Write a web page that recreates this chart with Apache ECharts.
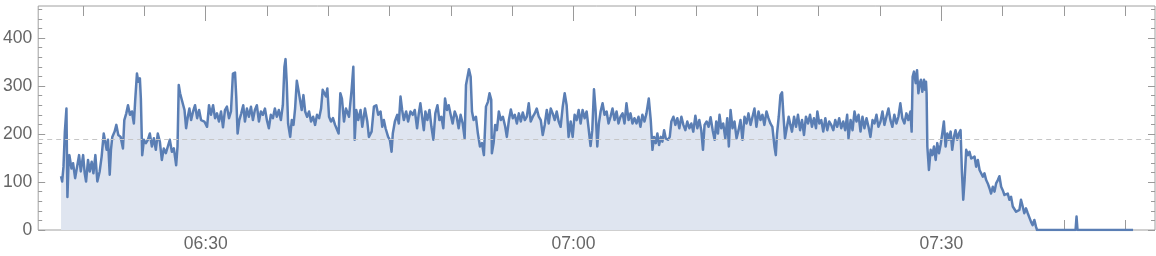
<!DOCTYPE html>
<html>
<head>
<meta charset="utf-8">
<script src="https://cdn.jsdelivr.net/npm/echarts@6/dist/echarts.min.js"></script>
<style>
html,body{margin:0;padding:0;background:#fff;}
#chart{width:1156px;height:256px;}
</style>
</head>
<body>
<div id="chart"></div>
<script>
// time in minutes after 06:00
const minutes = [
 18.20,18.29,18.40,18.51,18.56,18.64,18.72,18.80,18.88,19.05,19.18,19.35,19.51,19.67,19.81,20.00,20.13,20.24,20.40,20.54,
 20.70,20.84,21.00,21.16,21.35,21.51,21.68,21.81,21.92,22.03,22.17,22.27,22.38,22.57,22.71,22.87,23.06,23.25,23.36,23.52,
 23.66,23.82,23.98,24.14,24.25,24.39,24.50,24.63,24.71,24.82,24.96,25.12,25.28,25.44,25.61,25.77,25.93,26.09,26.26,26.42,
 26.58,26.75,26.91,27.07,27.24,27.40,27.59,27.70,27.80,27.91,28.02,28.13,28.27,28.40,28.54,28.67,28.81,28.97,29.13,29.30,
 29.46,29.62,
 29.89,30.11,30.27,30.43,30.60,30.76,30.92,31.08,31.25,31.41,31.57,31.73,31.90,32.06,32.22,32.39,32.49,32.60,32.74,32.90,
 33.06,33.20,33.36,33.52,33.69,33.85,34.01,34.17,34.34,34.50,34.66,34.83,34.99,35.15,35.31,35.48,35.64,35.80,35.96,36.13,
 36.29,36.42,36.51,36.61,36.72,36.89,37.02,37.16,37.29,37.43,37.56,37.70,37.83,37.97,38.11,38.27,38.43,38.59,38.76,38.92,
 39.08,39.25,39.41,39.54,39.68,39.81,39.92,40.06,40.22,40.38,40.55,40.71,40.84,40.98,41.11,41.28,41.44,
 41.69,41.90,42.04,42.15,42.28,42.44,42.63,42.77,42.99,43.18,43.31,43.53,43.72,43.91,44.07,44.26,44.40,44.53,44.67,44.88,
 45.02,45.16,45.26,45.43,45.62,45.75,45.89,46.02,46.16,46.35,46.51,46.70,46.89,47.05,47.24,47.38,47.51,47.65,47.79,47.92,
 48.08,48.25,48.41,48.57,48.73,48.90,49.06,49.22,49.38,49.52,49.68,49.82,49.98,50.14,50.31,50.47,50.63,50.79,50.96,51.12,
 51.23,51.36,51.47,51.61,51.72,51.85,52.04,52.20,52.37,52.53,52.69,52.86,53.02,53.15,53.29,
 53.34,53.48,53.61,53.75,53.91,54.07,54.24,54.43,54.56,54.73,54.89,55.05,55.21,55.38,55.54,55.70,55.86,56.03,56.19,56.35,
 56.51,56.68,56.84,57.00,57.17,57.33,57.49,57.65,57.82,57.98,58.14,58.30,58.47,58.63,58.79,58.95,59.12,59.28,59.44,59.60,
 59.77,59.93,60.09,60.26,60.42,60.58,60.74,60.91,61.07,61.23,61.39,61.53,61.67,61.80,61.94,62.07,62.21,62.37,62.53,62.70,
 62.86,63.02,63.18,63.35,63.51,63.67,63.83,64.00,64.16,64.32,64.49,64.65,64.81,64.97,
 65.14,65.30,65.46,65.62,65.79,65.95,66.14,66.30,66.44,66.57,66.71,66.84,66.98,67.12,67.25,67.39,67.52,67.71,67.85,67.98,
 68.15,68.31,68.47,68.63,68.80,68.96,69.12,69.28,69.45,69.61,69.77,69.94,70.10,70.26,70.42,70.56,70.69,70.86,71.02,71.18,
 71.35,71.51,71.64,71.78,71.91,72.05,72.21,72.38,72.54,72.67,72.81,72.97,73.13,73.30,73.46,73.62,73.78,73.95,74.11,74.27,
 74.44,74.60,74.76,74.92,75.09,75.25,75.41,75.57,75.74,75.90,76.06,76.22,76.39,76.50,76.60,76.74,76.88,
 77.01,77.12,77.25,77.39,77.55,77.69,77.82,77.99,78.15,78.31,78.48,78.64,78.80,78.96,79.13,79.29,79.45,79.61,79.78,79.89,
 80.05,80.21,80.37,80.54,80.70,80.86,81.02,81.19,81.35,81.51,81.67,81.84,82.00,82.16,82.32,82.43,82.60,82.76,82.92,83.08,
 83.25,83.41,83.57,83.73,83.90,84.06,84.22,84.39,84.55,84.71,84.87,85.04,85.20,85.36,85.52,85.69,85.85,86.01,86.17,86.34,
 86.50,86.66,86.82,86.99,87.15,87.31,87.48,87.58,87.66,87.77,87.91,88.02,88.13,88.24,88.34,88.45,88.59,88.67,
 88.75,88.80,88.86,88.99,89.13,89.27,89.40,89.54,89.67,89.81,89.94,90.08,90.21,90.35,90.49,90.62,90.76,90.89,91.03,91.16,
 91.30,91.43,91.57,91.68,91.79,91.90,92.03,92.17,92.30,92.44,92.57,92.71,92.84,92.98,93.12,93.25,93.39,93.52,93.66,93.79,
 93.93,94.06,94.20,94.34,94.47,94.61,94.74,94.88,95.01,95.15,95.28,95.42,95.55,95.69,95.83,95.96,96.10,96.23,96.37,96.50,
 96.64,96.77,96.91,97.05,97.18,97.32,97.45,97.59,97.72,97.81,100.95,101.03,101.11,105.64
];
const values = [
 112,101,132,205,201,253,69,132,156,128,139,108,132,156,122,156,118,101,146,122,
 142,118,156,101,122,153,201,205,167,188,115,167,194,205,219,198,194,170,229,243,
 260,240,247,222,271,326,309,316,274,156,188,181,188,201,174,191,167,201,184,146,
 170,160,174,188,163,170,135,174,302,285,274,278,250,212,236,253,229,247,260,233,
 250,229,
 226,215,260,240,260,233,243,226,247,214,250,257,233,247,326,328,278,201,229,243,
 260,226,253,236,257,229,250,260,226,247,240,253,229,212,240,233,253,236,250,229,
 260,340,356,306,222,194,229,219,253,311,292,295,250,281,247,236,247,226,236,219,
 240,233,253,292,295,278,295,236,226,233,219,219,201,285,274,226,253,
 236,292,340,188,250,229,250,215,253,226,194,205,257,260,240,247,215,229,212,194,
 188,163,201,226,240,222,278,250,229,247,226,247,240,250,212,243,264,236,208,247,
 229,250,215,188,243,260,229,236,212,274,250,260,240,222,247,236,212,240,222,191,
 302,306,335,319,247,229,236,201,174,181,156,257,267,285,271,
 160,181,219,208,247,229,236,215,194,229,251,233,240,222,243,226,245,229,236,264,
 226,236,243,253,236,229,198,219,250,222,253,243,229,247,226,215,257,285,260,194,
 226,194,240,229,250,222,250,233,247,212,175,208,293,250,174,222,247,264,240,247,
 222,236,253,229,247,222,236,243,222,264,229,243,222,233,
 222,236,215,240,226,243,274,229,167,194,181,201,177,194,184,208,191,188,194,226,
 236,219,233,212,236,219,208,226,212,222,205,238,212,229,208,167,219,226,215,235,
 208,188,226,201,240,212,222,191,233,174,250,212,226,191,208,229,188,236,222,243,
 219,236,253,215,247,229,240,219,247,233,222,215,174,156,201,236,281,
 287,240,191,212,236,219,205,236,215,240,208,229,198,236,222,240,215,233,212,247,
 222,229,205,233,208,226,219,208,229,215,233,212,226,208,240,191,229,208,247,226,
 240,205,236,212,233,215,194,229,222,240,215,226,247,219,236,253,229,215,240,222,
 236,264,233,222,243,229,247,205,319,330,306,333,285,306,313,288,313,292,
 309,285,174,125,167,156,174,146,181,160,177,201,226,174,201,188,205,167,194,208,
 188,201,208,122,63,104,167,156,163,149,146,153,132,146,125,128,111,118,104,97,
 87,76,90,80,97,104,112,90,83,73,69,76,63,69,49,52,38,35,42,63,
 49,35,45,35,38,17,10,21,7,0,0,28,0,0
];
const meanValue = 190;
const xMajorTicks = [30, 60, 90];
const xMinorTicks = [20,25,30,35,40,45,50,55,60,65,70,75,80,85,90,95,100,105];
const yMajorTicks = [0, 100, 200, 300, 400];
const yMinorTicks = [20,40,60,80,120,140,160,180,220,240,260,280,320,340,360,380,420,440,460];

const X_MIN = 16.336, X_MAX = 107.43, Y_MIN = 0, Y_MAX = 466.7;
const tickColor = '#9a9a9a';
const labelColor = '#666666';
const FONT = 'Liberation Sans';

function fmt(v) {
  const total = Math.round(v);
  const h = 6 + Math.floor(total / 60);
  const m = total % 60;
  return String(h).padStart(2, '0') + ':' + String(m).padStart(2, '0');
}

function xAx(pos, ticks, len, withLabels) {
  return {
    type: 'value', position: pos, min: X_MIN, max: X_MAX,
    axisLine: { show: false, onZero: false },
    splitLine: { show: false },
    axisTick: { show: true, inside: true, length: len, customValues: ticks, lineStyle: { color: tickColor, width: 1 } },
    axisLabel: withLabels
      ? { show: true, customValues: ticks, formatter: fmt, color: labelColor, fontSize: 17.5, fontFamily: FONT, margin: 5 }
      : { show: false }
  };
}
function yAx(pos, ticks, len, withLabels) {
  return {
    type: 'value', position: pos, min: Y_MIN, max: Y_MAX,
    axisLine: { show: false, onZero: false },
    splitLine: { show: false },
    axisTick: { show: true, inside: true, length: len, customValues: ticks, lineStyle: { color: tickColor, width: 1 } },
    axisLabel: withLabels
      ? { show: true, customValues: ticks, color: labelColor, fontSize: 17.5, fontFamily: FONT, margin: 6 }
      : { show: false }
  };
}

const chart = echarts.init(document.getElementById('chart'), null, { renderer: 'canvas' });
chart.setOption({
  animation: false,
  backgroundColor: '#ffffff',
  grid: { left: 35, right: 1, top: 6, bottom: 26, show: true, borderColor: '#a0a0a0', borderWidth: 1, backgroundColor: 'transparent' },
  xAxis: [
    xAx('bottom', xMinorTicks, 10, false),
    xAx('bottom', xMajorTicks, 15, true),
    xAx('top', xMinorTicks, 10, false),
    xAx('top', xMajorTicks, 15, false)
  ],
  yAxis: [
    yAx('left', yMajorTicks, 7, true),
    yAx('left', yMinorTicks, 4, false),
    yAx('right', yMajorTicks, 7, false),
    yAx('right', yMinorTicks, 4, false)
  ],
  series: [{
    type: 'line',
    xAxisIndex: 0, yAxisIndex: 0,
    data: minutes.map((t, i) => [t, values[i]]),
    showSymbol: false,
    symbol: 'none',
    lineStyle: { color: '#5a7eb4', width: 2.5, join: 'round' },
    areaStyle: { color: '#dfe5f0', opacity: 1, origin: 'start' },
    markLine: {
      silent: true, symbol: 'none', label: { show: false },
      lineStyle: { color: '#c6c6c6', type: [5, 4], width: 1 },
      data: [{ yAxis: meanValue }]
    }
  }]
});
</script>
</body>
</html>
